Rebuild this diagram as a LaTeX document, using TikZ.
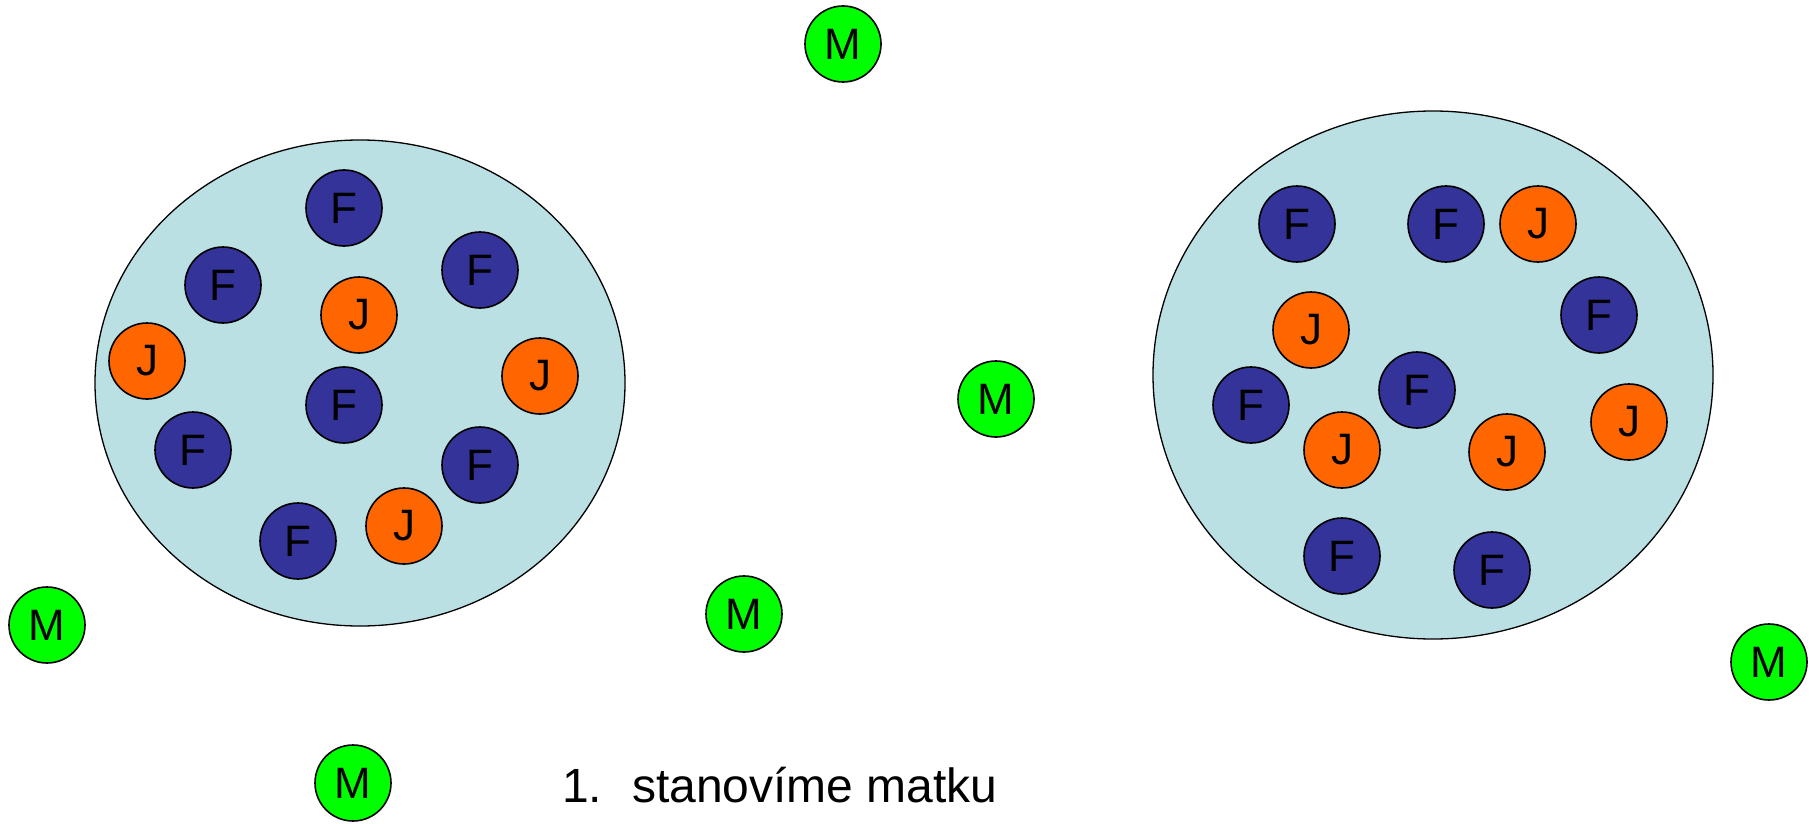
\documentclass[tikz,border=0pt]{standalone}
\usepackage{fontspec}
\setmainfont{Liberation Sans}
\definecolor{fblue}{HTML}{333399}
\definecolor{jorange}{HTML}{FF6600}
\definecolor{mgreen}{HTML}{00FF00}
\definecolor{cellbg}{HTML}{BBE0E3}
\tikzset{
  ball/.style={circle, draw=black, line width=1.6pt, minimum size=76pt, inner sep=0pt, font=\fontsize{44}{44}\selectfont, text=black},
  fb/.style={ball, fill=fblue},
  jb/.style={ball, fill=jorange},
  mb/.style={ball, fill=mgreen},
  cell/.style={ellipse, draw=black, line width=1.3pt, fill=cellbg, inner sep=0pt},
  lbl/.style={anchor=base west, inner sep=0pt, font=\fontsize{48}{48}\selectfont}
}
\usetikzlibrary{shapes.geometric}
\begin{document}
\begin{tikzpicture}[x=1pt,y=-1pt]
\useasboundingbox (0,0) rectangle (1814,824);
\node[cell, minimum width=530pt, minimum height=486pt] (c1) at (360,383) {};
\node[cell, minimum width=560pt, minimum height=528pt] (c2) at (1433,375) {};
% left cell
\node[fb] (l1) at (344,208) {F};
\node[fb] (l2) at (223,285) {F};
\node[fb] (l3) at (480,270) {F};
\node[jb] (l4) at (359,315) {J};
\node[jb] (l5) at (147,361) {J};
\node[jb] (l6) at (540,376) {J};
\node[fb] (l7) at (344,405) {F};
\node[fb] (l8) at (193,450) {F};
\node[fb] (l9) at (480,465) {F};
\node[fb] (l10) at (298,541) {F};
\node[jb] (l11) at (404,526) {J};
% right cell
\node[fb] (r1) at (1297,224) {F};
\node[fb] (r2) at (1446,224) {F};
\node[jb] (r3) at (1538,224) {J};
\node[fb] (r4) at (1599,315) {F};
\node[jb] (r5) at (1311,330) {J};
\node[fb] (r6) at (1417,390) {F};
\node[fb] (r7) at (1251,405) {F};
\node[jb] (r8) at (1342,450) {J};
\node[jb] (r9) at (1507,452) {J};
\node[jb] (r10) at (1629,422) {J};
\node[fb] (r11) at (1342,556) {F};
\node[fb] (r12) at (1492,570) {F};
% M
\node[mb] (m1) at (843,44) {M};
\node[mb] (m2) at (996,399) {M};
\node[mb] (m3) at (47,625) {M};
\node[mb] (m4) at (744,614) {M};
\node[mb] (m5) at (353,783) {M};
\node[mb] (m6) at (1769,662) {M};
% text
\node[lbl] (n1) at (562,802) {1.};
\node[lbl] (t1) at (632,802) {stanovíme matku};
\end{tikzpicture}
\end{document}
